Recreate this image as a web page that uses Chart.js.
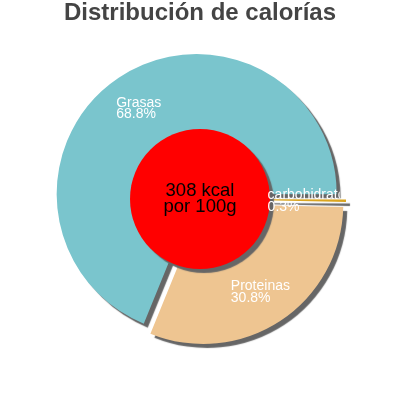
<!DOCTYPE html>
<html>
<head>
<meta charset="utf-8">
<script src="https://cdn.jsdelivr.net/npm/chart.js@4/dist/chart.umd.min.js"></script>
<style>
  html,body{margin:0;padding:0;background:#fff;}
  canvas{display:block;}
</style>
</head>
<body>
<canvas id="chart" width="400" height="400"></canvas>
<script>
// data (percent of calories)
const labels=['Grasas','carbohidratos','Proteinas'];
const values=[68.8,0.3,30.8];
const pctLabels=['68.8%','0.3%','30.8%'];
const colors=['#7AC5CD','#DAA520','#EEC591'];
const centerLines=['308 kcal','por 100g'];
const titleText='Distribución de calorías';

const FONT='"Liberation Sans", Arial, sans-serif';
const EXPLODE=6, SHADOW='#666666';

function withShadow(ctx){
  ctx.shadowColor=SHADOW; ctx.shadowBlur=1;
  ctx.shadowOffsetX=4; ctx.shadowOffsetY=4;
}

const decor={
  id:'decor',
  beforeDatasetDraw(chart,args){
    // exploded slices with drop shadow
    const ctx=chart.ctx;
    ctx.save(); withShadow(ctx);
    args.meta.data.forEach(arc=>{
      const mid=(arc.startAngle+arc.endAngle)/2;
      ctx.save();
      ctx.translate(Math.cos(mid)*EXPLODE,Math.sin(mid)*EXPLODE);
      arc.draw(ctx);
      ctx.restore();
    });
    ctx.restore();
    return false;
  },
  afterDatasetsDraw(chart){
    const ctx=chart.ctx;
    const arcs=chart.getDatasetMeta(0).data;
    const cx=arcs[0].x, cy=arcs[0].y, R=arcs[0].outerRadius;

    // red centre disc
    ctx.save(); withShadow(ctx);
    ctx.beginPath(); ctx.arc(cx,cy,R*0.5,0,Math.PI*2);
    ctx.fillStyle='#FF0000'; ctx.fill();
    ctx.restore();

    ctx.save();
    ctx.fillStyle='#000'; ctx.textAlign='center'; ctx.textBaseline='alphabetic';
    ctx.font='18.5px '+FONT;
    ctx.fillText(centerLines[0],cx,cy-3);
    ctx.fillText(centerLines[1],cx,cy+12.7);
    ctx.restore();

    // slice labels, clipped to the pie disc
    ctx.save();
    ctx.beginPath(); ctx.arc(cx,cy,R,0,Math.PI*2); ctx.clip();
    ctx.fillStyle='#fff'; ctx.textAlign='left'; ctx.textBaseline='alphabetic';
    ctx.font='14px '+FONT;
    arcs.forEach((arc,i)=>{
      const mid=(arc.startAngle+arc.endAngle)/2;
      const ax=cx+Math.cos(mid)*R*0.786, ay=cy+Math.sin(mid)*R*0.786;
      const w=Math.max(ctx.measureText(labels[i]).width,ctx.measureText(pctLabels[i]).width);
      ctx.fillText(labels[i],ax-w/2,ay-1);
      ctx.fillText(pctLabels[i],ax-w/2,ay+10.7);
    });
    ctx.restore();
  }
};

new Chart(document.getElementById('chart'),{
  type:'pie',
  data:{labels,datasets:[{data:values,backgroundColor:colors,borderWidth:0,hoverOffset:0}]},
  options:{
    responsive:false,animation:false,devicePixelRatio:1,
    radius:140,rotation:202.2,
    layout:{padding:{bottom:27}},
    events:[],
    plugins:{
      legend:{display:false},tooltip:{enabled:false},
      title:{display:true,text:titleText,color:'#444444',
        font:{family:FONT,size:24,weight:'bold',lineHeight:1},
        padding:{top:1,bottom:0}}
    }
  },
  plugins:[decor]
});
</script>
</body>
</html>
